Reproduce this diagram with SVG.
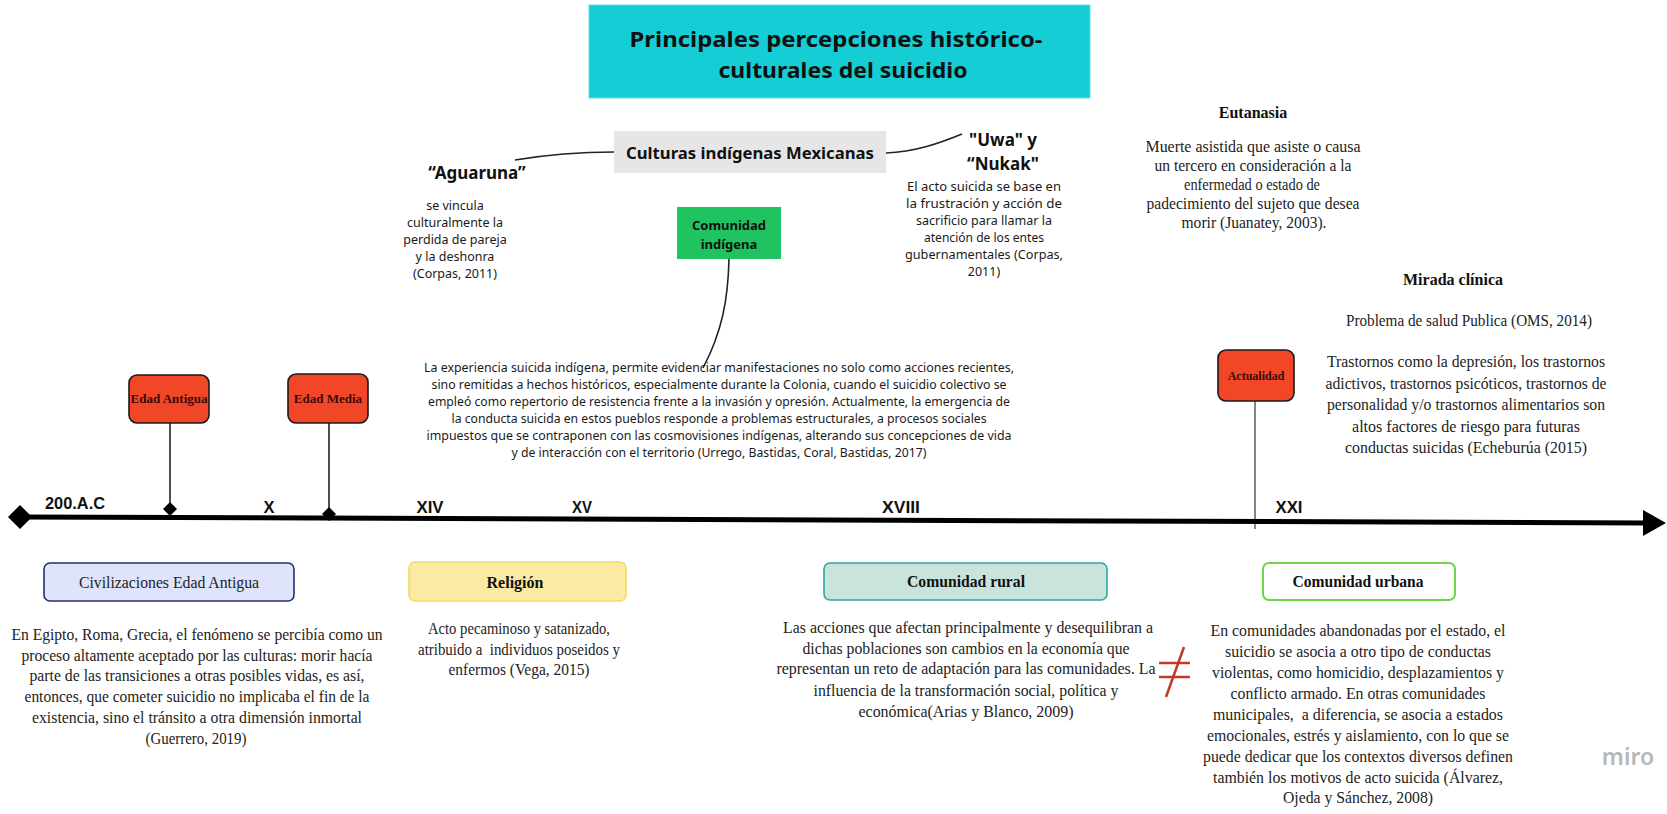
<svg xmlns="http://www.w3.org/2000/svg" width="1667" height="814" viewBox="0 0 1667 814">
<style>
.m{font-family:"Noto Sans","Open Sans",sans-serif;fill:#1a1a1a;}
.mb{font-family:"Noto Sans","Open Sans",sans-serif;font-weight:bold;fill:#111;}
.t{font-family:"Liberation Serif","Times New Roman",serif;fill:#222;font-size:16px;}
.tb{font-family:"Liberation Serif","Times New Roman",serif;font-weight:bold;fill:#111;font-size:16px;}
.red{fill:#f24726;stroke:#1a1a1a;stroke-width:1.6;}
.redt{font-family:"Liberation Serif","Times New Roman",serif;font-weight:bold;fill:#3a0a0a;}
.tl{font-family:"Liberation Sans",Arial,sans-serif;font-weight:bold;fill:#111;font-size:17px;}
.c{fill:none;stroke:#222;stroke-width:1.6;}
</style>
<rect width="1667" height="814" fill="#ffffff"/>

<g id="title">
<rect x="589" y="5" width="501" height="93" fill="#14cdd5" stroke="#5fe0e4" stroke-width="1"/>
<text class="mb" font-size="22" x="836" y="47" text-anchor="middle" textLength="413" lengthAdjust="spacingAndGlyphs">Principales percepciones histórico-</text>
<text class="mb" font-size="22" x="843" y="78" text-anchor="middle" textLength="249" lengthAdjust="spacingAndGlyphs">culturales del suicidio</text>
</g>

<g id="connectors">
<path class="c" d="M515 160 C545 155 580 152 614 152"/>
<path class="c" d="M886 153 C915 152 940 143 962 134"/>
<path class="c" d="M729 259 C728 300 722 332 703 368"/>
<line class="c" x1="170" y1="423" x2="170" y2="503"/>
<line class="c" x1="329" y1="423" x2="329" y2="508"/>
<line x1="1255" y1="401" x2="1255" y2="529" stroke="#333" stroke-width="1.2"/>
</g>

<g id="culturas">
<rect x="614" y="131" width="272" height="42" fill="#e6e6e6"/>
<text class="mb" font-size="16" x="750" y="159" text-anchor="middle" textLength="248" lengthAdjust="spacingAndGlyphs">Culturas indígenas Mexicanas</text>
</g>

<g id="aguaruna">
<text class="mb" font-size="17" x="477" y="179" text-anchor="middle">“Aguaruna”</text>
<g class="m" font-size="12.5" text-anchor="middle">
<text x="455" y="210">se vincula</text>
<text x="455" y="227">culturalmente la</text>
<text x="455" y="244">perdida de pareja</text>
<text x="455" y="261">y la deshonra</text>
<text x="455" y="278">(Corpas, 2011)</text>
</g>
</g>

<g id="uwa">
<text class="mb" font-size="17" x="1003" y="146" text-anchor="middle">"Uwa" y</text>
<text class="mb" font-size="17" x="1003" y="170" text-anchor="middle">“Nukak"</text>
<g class="m" font-size="12.5" text-anchor="middle">
<text x="984" y="191" textLength="154" lengthAdjust="spacingAndGlyphs">El acto suicida se base en</text>
<text x="984" y="208" textLength="156" lengthAdjust="spacingAndGlyphs">la frustración y acción de</text>
<text x="984" y="225" textLength="136" lengthAdjust="spacingAndGlyphs">sacrificio para llamar la</text>
<text x="984" y="242" textLength="120" lengthAdjust="spacingAndGlyphs">atención de los entes</text>
<text x="984" y="259" textLength="158" lengthAdjust="spacingAndGlyphs">gubernamentales (Corpas,</text>
<text x="984" y="276">2011)</text>
</g>
</g>

<g id="comunidad-indigena">
<rect x="677" y="207" width="104" height="52" fill="#1fc35f"/>
<text class="mb" font-size="13" x="729" y="230" text-anchor="middle">Comunidad</text>
<text class="mb" font-size="13" x="729" y="249" text-anchor="middle">indígena</text>
</g>

<g id="indigena-texto" class="m" font-size="12.5" text-anchor="middle">
<text x="719" y="372" textLength="590" lengthAdjust="spacingAndGlyphs">La experiencia suicida indígena, permite evidenciar manifestaciones no solo como acciones recientes,</text>
<text x="719" y="389" textLength="575" lengthAdjust="spacingAndGlyphs">sino remitidas a hechos históricos, especialmente durante la Colonia, cuando el suicidio colectivo se</text>
<text x="719" y="406" textLength="582" lengthAdjust="spacingAndGlyphs">empleó como repertorio de resistencia frente a la invasión y opresión. Actualmente, la emergencia de</text>
<text x="719" y="423" textLength="535" lengthAdjust="spacingAndGlyphs">la conducta suicida en estos pueblos responde a problemas estructurales, a procesos sociales</text>
<text x="719" y="440" textLength="585" lengthAdjust="spacingAndGlyphs">impuestos que se contraponen con las cosmovisiones indígenas, alterando sus concepciones de vida</text>
<text x="719" y="457" textLength="415" lengthAdjust="spacingAndGlyphs">y de interacción con el territorio (Urrego, Bastidas, Coral, Bastidas, 2017)</text>
</g>

<g id="eutanasia">
<text class="tb" x="1253" y="118" text-anchor="middle">Eutanasia</text>
<g class="t" text-anchor="middle">
<text x="1253" y="152" textLength="215" lengthAdjust="spacingAndGlyphs">Muerte asistida que asiste o causa</text>
<text x="1253" y="171" textLength="197" lengthAdjust="spacingAndGlyphs">un tercero en consideración a la</text>
<text x="1252" y="190" textLength="136" lengthAdjust="spacingAndGlyphs">enfermedad o estado de</text>
<text x="1253" y="209" textLength="213" lengthAdjust="spacingAndGlyphs">padecimiento del sujeto que desea</text>
<text x="1254" y="228" textLength="145" lengthAdjust="spacingAndGlyphs">morir (Juanatey, 2003).</text>
</g>
</g>

<g id="mirada-clinica">
<text class="tb" x="1453" y="285" text-anchor="middle">Mirada clínica</text>
<g class="t" text-anchor="middle">
<text x="1469" y="326" textLength="246" lengthAdjust="spacingAndGlyphs">Problema de salud Publica (OMS, 2014)</text>
<text x="1466" y="367" textLength="278" lengthAdjust="spacingAndGlyphs">Trastornos como la depresión, los trastornos</text>
<text x="1466" y="389" textLength="281" lengthAdjust="spacingAndGlyphs">adictivos, trastornos psicóticos, trastornos de</text>
<text x="1466" y="410" textLength="278" lengthAdjust="spacingAndGlyphs">personalidad y/o trastornos alimentarios son</text>
<text x="1466" y="432" textLength="228" lengthAdjust="spacingAndGlyphs">altos factores de riesgo para futuras</text>
<text x="1466" y="453" textLength="242" lengthAdjust="spacingAndGlyphs">conductas suicidas (Echeburúa (2015)</text>
</g>
</g>

<g id="edad-antigua">
<rect class="red" x="129" y="375" width="80" height="48" rx="8"/>
<text class="redt" font-size="13" x="169" y="403" text-anchor="middle">Edad Antigua</text>
</g>
<g id="edad-media">
<rect class="red" x="288" y="374" width="80" height="49" rx="8"/>
<text class="redt" font-size="13" x="328" y="403" text-anchor="middle">Edad Media</text>
</g>
<g id="actualidad">
<rect class="red" x="1218" y="350" width="76" height="51" rx="8"/>
<text class="redt" font-size="12" x="1256" y="380" text-anchor="middle">Actualidad</text>
</g>

<g id="timeline">
<line x1="20" y1="517" x2="1646" y2="523" stroke="#000" stroke-width="5"/>
<polygon points="1643,510 1666,523 1643,536" fill="#000"/>
<polygon points="20,505 32,517 20,529 8,517" fill="#000"/>
<polygon points="170,502 177,509 170,516 163,509" fill="#000"/>
<polygon points="329,507 336,514 329,521 322,514" fill="#000"/>
<text class="tl" x="45" y="509" textLength="60" lengthAdjust="spacingAndGlyphs">200.A.C</text>
<text class="tl" x="269" y="513" text-anchor="middle" textLength="11" lengthAdjust="spacingAndGlyphs">X</text>
<text class="tl" x="430" y="513" text-anchor="middle" textLength="27" lengthAdjust="spacingAndGlyphs">XIV</text>
<text class="tl" x="582" y="513" text-anchor="middle" textLength="20" lengthAdjust="spacingAndGlyphs">XV</text>
<text class="tl" x="901" y="513" text-anchor="middle" textLength="38" lengthAdjust="spacingAndGlyphs">XVIII</text>
<text class="tl" x="1289" y="513" text-anchor="middle" textLength="27" lengthAdjust="spacingAndGlyphs">XXI</text>
</g>

<g id="civilizaciones">
<rect x="44" y="563" width="250" height="38" rx="6" fill="#dfe3fb" stroke="#232f6e" stroke-width="1.6"/>
<text class="t" x="169" y="588" text-anchor="middle" textLength="180" lengthAdjust="spacingAndGlyphs">Civilizaciones Edad Antigua</text>
<g class="t" text-anchor="middle">
<text x="197" y="640" textLength="371" lengthAdjust="spacingAndGlyphs">En Egipto, Roma, Grecia, el fenómeno se percibía como un</text>
<text x="197" y="661" textLength="351" lengthAdjust="spacingAndGlyphs">proceso altamente aceptado por las culturas: morir hacía</text>
<text x="197" y="681" textLength="335" lengthAdjust="spacingAndGlyphs">parte de las transiciones a otras posibles vidas, es así,</text>
<text x="197" y="702" textLength="345" lengthAdjust="spacingAndGlyphs">entonces, que cometer suicidio no implicaba el fin de la</text>
<text x="197" y="723" textLength="330" lengthAdjust="spacingAndGlyphs">existencia, sino el tránsito a otra dimensión inmortal</text>
<text x="196" y="744" textLength="101" lengthAdjust="spacingAndGlyphs">(Guerrero, 2019)</text>
</g>
</g>

<g id="religion">
<rect x="409" y="562" width="217" height="39" rx="6" fill="#fbeaa2" stroke="#f4d967" stroke-width="1.6"/>
<text class="tb" x="515" y="588" text-anchor="middle">Religión</text>
<g class="t" text-anchor="middle">
<text x="519" y="634" textLength="182" lengthAdjust="spacingAndGlyphs">Acto pecaminoso y satanizado,</text>
<text x="519" y="655" textLength="202" lengthAdjust="spacingAndGlyphs">atribuido a&#160; individuos poseidos y</text>
<text x="519" y="675" textLength="141" lengthAdjust="spacingAndGlyphs">enfermos (Vega, 2015)</text>
</g>
</g>

<g id="comunidad-rural">
<rect x="824" y="563" width="283" height="37" rx="6" fill="#c9e4dd" stroke="#2fa59d" stroke-width="1.6"/>
<text class="tb" x="966" y="587" text-anchor="middle" textLength="118" lengthAdjust="spacingAndGlyphs">Comunidad rural</text>
<g class="t" text-anchor="middle">
<text x="968" y="633" textLength="370" lengthAdjust="spacingAndGlyphs">Las acciones que afectan principalmente y desequilibran a</text>
<text x="966" y="654" textLength="327" lengthAdjust="spacingAndGlyphs">dichas poblaciones son cambios en la economía que</text>
<text x="966" y="674" textLength="379" lengthAdjust="spacingAndGlyphs">representan un reto de adaptación para las comunidades. La</text>
<text x="966" y="696" textLength="305" lengthAdjust="spacingAndGlyphs">influencia de la transformación social, política y</text>
<text x="966" y="717" textLength="215" lengthAdjust="spacingAndGlyphs">económica(Arias y Blanco, 2009)</text>
</g>
</g>

<g id="distinto" stroke="#c0392b" stroke-width="2.5" fill="none">
<line x1="1159" y1="663" x2="1190" y2="663"/>
<line x1="1159" y1="677" x2="1190" y2="677"/>
<line x1="1166" y1="697" x2="1184" y2="647"/>
</g>

<g id="comunidad-urbana">
<rect x="1263" y="563" width="192" height="37" rx="6" fill="#ffffff" stroke="#6bd648" stroke-width="2"/>
<text class="tb" x="1358" y="587" text-anchor="middle" textLength="131" lengthAdjust="spacingAndGlyphs">Comunidad urbana</text>
<g class="t" text-anchor="middle">
<text x="1358" y="636" textLength="295" lengthAdjust="spacingAndGlyphs">En comunidades abandonadas por el estado, el</text>
<text x="1358" y="657" textLength="266" lengthAdjust="spacingAndGlyphs">suicidio se asocia a otro tipo de conductas</text>
<text x="1358" y="678" textLength="292" lengthAdjust="spacingAndGlyphs">violentas, como homicidio, desplazamientos y</text>
<text x="1358" y="699" textLength="255" lengthAdjust="spacingAndGlyphs">conflicto armado. En otras comunidades</text>
<text x="1358" y="720" textLength="290" lengthAdjust="spacingAndGlyphs">municipales,&#160; a diferencia, se asocia a estados</text>
<text x="1358" y="741" textLength="302" lengthAdjust="spacingAndGlyphs">emocionales, estrés y aislamiento, con lo que se</text>
<text x="1358" y="762" textLength="310" lengthAdjust="spacingAndGlyphs">puede dedicar que los contextos diversos definen</text>
<text x="1358" y="783" textLength="290" lengthAdjust="spacingAndGlyphs">también los motivos de acto suicida (Álvarez,</text>
<text x="1358" y="803" textLength="150" lengthAdjust="spacingAndGlyphs">Ojeda y Sánchez, 2008)</text>
</g>
</g>

<g id="miro">
<text x="1628" y="765" text-anchor="middle" font-family="'Noto Sans',sans-serif" font-weight="600" font-size="23" fill="#b8b8b8">miro</text>
</g>
</svg>
